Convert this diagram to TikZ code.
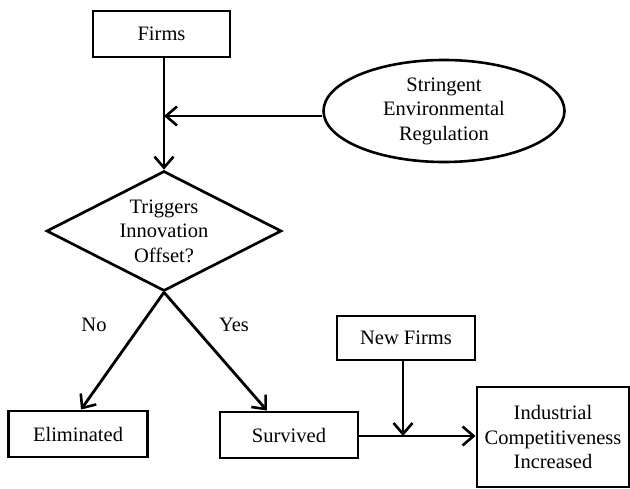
\documentclass[tikz,border=0pt]{standalone}
\usepackage{fontspec}
\setmainfont{Liberation Serif}
\usetikzlibrary{shapes.geometric,arrows.meta,calc}
\begin{document}
\begin{tikzpicture}[x=1pt,y=-1pt,
  every node/.style={font=\fontsize{20.5pt}{24.5pt}\selectfont, align=center, inner sep=0pt},
  box/.style={draw, line width=2.9pt, rectangle},
  conn/.style={line width=2.8pt, -{Straight Barb[length=11pt,width=19pt,line width=2.6pt]}},
  plain/.style={line width=2.8pt}]
\useasboundingbox (0,0) rectangle (630,488);
\node[box, minimum width=137pt, minimum height=46pt] (firms) at (161.5,34) {Firms};
\node[draw, ellipse, line width=2.6pt, minimum width=241pt, minimum height=102pt] (reg) at (444,111) {Stringent\\Environmental\\Regulation};
\node[draw, diamond, line width=2.7pt, minimum width=235pt, minimum height=120pt, aspect=1.96] (dec) at (164,231) {Triggers\\Innovation\\Offset?};
\node[box, minimum width=139pt, minimum height=46pt] (elim) at (78,434) {Eliminated};
\node[box, minimum width=138pt, minimum height=46pt] (surv) at (289,435) {Survived};
\node[box, minimum width=138pt, minimum height=44pt] (newf) at (406,338) {New Firms};
\node[box, minimum width=152pt, minimum height=100pt] (ind) at (553,437) {Industrial\\Competitiveness\\Increased};
\node (no) at (94,325) {No};
\node (yes) at (234,325) {Yes};
\coordinate (j1) at (164,116);
\coordinate (j2) at (403,436);
\draw[conn] (firms.south -| dec.north) -- (dec.north);
\draw[conn] (j1 -| reg.west) -- (j1);
\draw[conn] (dec.south) -- ([xshift=3pt]elim.north);
\draw[conn] (dec.south) -- ([xshift=-22pt]surv.north);
\draw[conn] (surv.east |- j2) -- (j2 -| ind.west);
\draw[conn] (newf.south -| j2) -- (j2);
\end{tikzpicture}
\end{document}
